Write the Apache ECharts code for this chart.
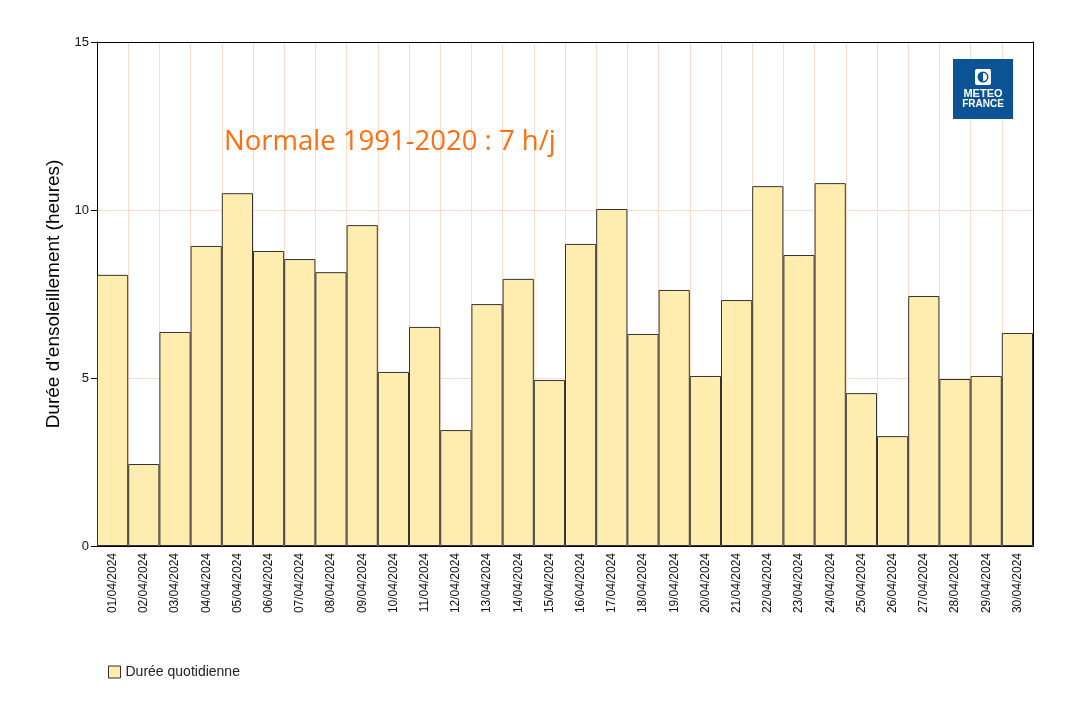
<!DOCTYPE html>
<html>
<head>
<meta charset="utf-8">
<script src="https://cdn.jsdelivr.net/npm/echarts@6/dist/echarts.min.js"></script>
<style>html,body{margin:0;padding:0;background:#fff}#c{width:1072px;height:708px}</style>
</head>
<body>
<div id="c"></div>
<script>
var categories = ['01/04/2024','02/04/2024','03/04/2024','04/04/2024','05/04/2024','06/04/2024','07/04/2024','08/04/2024','09/04/2024','10/04/2024','11/04/2024','12/04/2024','13/04/2024','14/04/2024','15/04/2024','16/04/2024','17/04/2024','18/04/2024','19/04/2024','20/04/2024','21/04/2024','22/04/2024','23/04/2024','24/04/2024','25/04/2024','26/04/2024','27/04/2024','28/04/2024','29/04/2024','30/04/2024'];
var durees = [8.07,2.44,6.37,8.93,10.5,8.78,8.54,8.15,9.55,5.18,6.52,3.45,7.2,7.95,4.94,8.99,10.03,6.31,7.62,5.06,7.32,10.71,8.66,10.8,4.55,3.27,7.44,4.97,5.06,6.34];
var yTicks = [0,5,10,15];
var seriesName = 'Durée quotidienne';
var yTitle = "Durée d'ensoleillement (heures)";
var normaleText = 'Normale 1991-2020 : 7 h/j';

var gridColor = '#fbdccb';
var chart = echarts.init(document.getElementById('c'));
chart.setOption({
  animation: false,
  backgroundColor: '#fff',
  grid: {left: 97, right: 39, top: 42, bottom: 162, show: false},
  legend: {
    data: [seriesName], left: 103, top: 660, icon: 'rect', itemWidth: 12, itemHeight: 12, itemGap: 5,
    itemStyle: {color: '#FFEDB0', borderColor: '#333', borderWidth: 1},
    textStyle: {fontFamily: 'Liberation Sans, Arial', fontSize: 14, color: '#222'}
  },
  xAxis: [{
    type: 'category', data: categories, boundaryGap: true,
    axisLine: {show: true, onZero: false, lineStyle: {color: '#000'}},
    axisTick: {show: false},
    axisLabel: {rotate: 90, fontFamily: 'Liberation Sans, Arial', fontSize: 12, color: '#111', margin: 7, interval: 0},
    splitLine: {show: true, interval: 0, lineStyle: {color: gridColor, width: 1}}
  }, {
    type: 'category', data: categories, position: 'top', boundaryGap: true, z: 10,
    axisLine: {show: true, onZero: false, lineStyle: {color: '#000'}},
    axisTick: {show: false}, axisLabel: {show: false}, splitLine: {show: false}
  }],
  yAxis: [{
    type: 'value', min: 0, max: 15, interval: 5,
    name: yTitle, nameLocation: 'middle', nameGap: 29, nameRotate: 90,
    nameTextStyle: {fontFamily: 'Liberation Sans, Arial', fontSize: 19, color: '#000'},
    axisLine: {show: true, onZero: false, lineStyle: {color: '#000'}},
    axisTick: {show: true, length: 6, lineStyle: {color: '#000'}},
    axisLabel: {fontFamily: 'Liberation Sans, Arial', fontSize: 13, color: '#111', margin: 8,
      formatter: function(v){ return yTicks.indexOf(v) >= 0 ? String(v) : ''; }},
    splitLine: {show: true, showMaxLine: false, showMinLine: false, lineStyle: {color: gridColor, width: 1}}
  }, {
    type: 'value', min: 0, max: 15, interval: 5, position: 'right', z: 10,
    axisLine: {show: true, onZero: false, lineStyle: {color: '#000'}},
    axisTick: {show: false}, axisLabel: {show: false}, splitLine: {show: false}
  }],
  series: [{
    name: seriesName, type: 'bar', data: durees, barCategoryGap: 0, barGap: 0,
    itemStyle: {color: '#FFEDB0', borderColor: '#333', borderWidth: 1}
  }],
  graphic: [
    {type: 'text', left: 224, top: 128, z: 100, style: {text: normaleText, fill: '#FF6E0E', font: '27.5px "Open Sans", "Noto Sans", sans-serif'}},
    {type: 'rect', z: 100, shape: {x: 953, y: 59, width: 60, height: 60}, style: {fill: '#0B5394'}},
    {type: 'rect', z: 101, shape: {x: 975, y: 69, width: 16, height: 16, r: 2}, style: {fill: '#fff'}},
    {type: 'circle', z: 102, shape: {cx: 983, cy: 77, r: 5.5}, style: {fill: '#0B5394'}},
    {type: 'sector', z: 103, shape: {cx: 983, cy: 77, r: 4, startAngle: -Math.PI/2, endAngle: Math.PI/2}, style: {fill: '#fff'}},
    {type: 'text', z: 101, style: {text: 'METEO', x: 983, y: 94, align: 'center', verticalAlign: 'middle', fill: '#fff', font: 'bold 11px "Liberation Sans", Arial'}},
    {type: 'text', z: 101, style: {text: 'FRANCE', x: 983, y: 104, align: 'center', verticalAlign: 'middle', fill: '#fff', font: 'bold 10px "Liberation Sans", Arial'}}
  ]
});
</script>
</body>
</html>
